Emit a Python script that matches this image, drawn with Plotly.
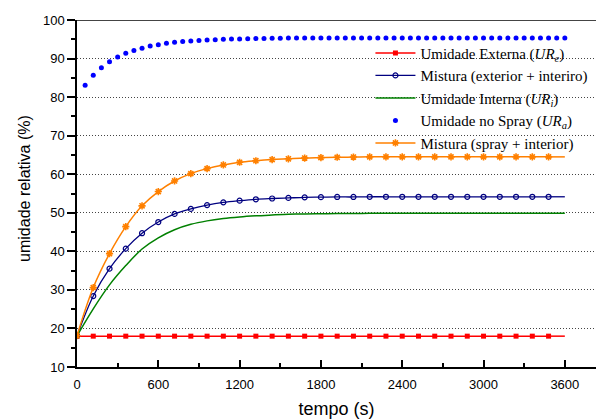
import plotly.graph_objects as go

# ---- data ----
tempo = [0, 120, 240, 360, 480, 600, 720, 840, 960, 1080, 1200, 1320, 1440, 1560,
         1680, 1800, 1920, 2040, 2160, 2280, 2400, 2520, 2640, 2760, 2880, 3000,
         3120, 3240, 3360, 3480, 3600]

ur_externa = [18.0, 18.0, 18.0, 18.0, 18.0, 18.0, 18.0, 18.0, 18.0, 18.0, 18.0,
              18.0, 18.0, 18.0, 18.0, 18.0, 18.0, 18.0, 18.0, 18.0, 18.0, 18.0,
              18.0, 18.0, 18.0, 18.0, 18.0, 18.0, 18.0, 18.0, 18.0]

mistura_ext = [18.1, 28.4, 35.5, 40.7, 44.7, 47.6, 49.7, 51.0, 52.0, 52.7, 53.15,
               53.5, 53.7, 53.85, 54.0, 54.05, 54.1, 54.1, 54.15, 54.15, 54.15,
               54.15, 54.15, 54.15, 54.15, 54.15, 54.15, 54.15, 54.15, 54.15, 54.15]

ur_interna = [18.1, 25.1, 31.3, 36.3, 40.6, 43.5, 45.6, 47.0, 47.9, 48.5, 48.9,
              49.2, 49.45, 49.6, 49.7, 49.75, 49.8, 49.8, 49.85, 49.85, 49.85,
              49.9, 49.9, 49.9, 49.9, 49.9, 49.9, 49.9, 49.9, 49.9, 49.9]

mistura_spray = [18.1, 30.6, 39.4, 46.4, 51.8, 55.5, 58.25, 60.15, 61.45, 62.4,
                 63.1, 63.5, 63.8, 64.0, 64.2, 64.3, 64.4, 64.45, 64.5, 64.5,
                 64.5, 64.5, 64.5, 64.5, 64.5, 64.5, 64.5, 64.5, 64.5, 64.5, 64.5]

tempo_spray = [60, 120, 180, 240, 300, 360, 420, 480, 540, 600, 660, 720, 780, 840,
               900, 960, 1020, 1080, 1140, 1200, 1260, 1320, 1380, 1440, 1500, 1560,
               1620, 1680, 1740, 1800, 1860, 1920, 1980, 2040, 2100, 2160, 2220,
               2280, 2340, 2400, 2460, 2520, 2580, 2640, 2700, 2760, 2820, 2880,
               2940, 3000, 3060, 3120, 3180, 3240, 3300, 3360, 3420, 3480, 3540, 3600]

ur_spray = [83.1, 85.65, 87.6, 89.2, 90.4, 91.35, 92.1, 92.65, 93.25, 93.6, 93.95,
            94.2, 94.4, 94.55, 94.7, 94.8, 94.9, 95.0, 95.05, 95.1, 95.15, 95.2,
            95.2, 95.25, 95.25, 95.3, 95.3, 95.3, 95.3, 95.3, 95.3, 95.3, 95.3,
            95.3, 95.3, 95.3, 95.3, 95.3, 95.3, 95.3, 95.3, 95.3, 95.3, 95.3,
            95.3, 95.3, 95.3, 95.3, 95.3, 95.3, 95.3, 95.3, 95.3, 95.3, 95.3,
            95.3, 95.3, 95.3, 95.3, 95.3]

x_ticks = [0, 600, 1200, 1800, 2400, 3000, 3600]
y_ticks = [10, 20, 30, 40, 50, 60, 70, 80, 90, 100]

nomes = [
    "Umidade Externa (<i>UR<sub>e</sub></i>)",
    "Mistura (exterior + interiro)",
    "Umidade Interna (<i>UR<sub>i</sub></i>)",
    "Umidade no Spray (<i>UR<sub>a</sub></i>)",
    "Mistura (spray + interior)",
]

RED = "#FF0000"
NAVY = "#000080"
GREEN = "#008000"
BLUE = "#0000FF"
ORANGE = "#FF8000"

fig = go.Figure()

def add_marked(y, name, color, marker, width=1.5):
    # line with markers up to the last marker, then a plain line tail to the end
    fig.add_trace(go.Scatter(x=tempo[:-1], y=y[:-1], name=name, mode="lines+markers",
                             line=dict(color=color, width=width, shape="spline"),
                             marker=marker))
    fig.add_trace(go.Scatter(x=tempo[-2:], y=y[-2:], mode="lines", showlegend=False,
                             line=dict(color=color, width=width), hoverinfo="skip"))

add_marked(ur_externa, nomes[0], RED, dict(symbol="square", size=5, color=RED))
add_marked(mistura_ext, nomes[1], NAVY,
           dict(symbol="circle-open", size=5, color=NAVY, line=dict(width=1.2, color=NAVY)),
           width=1.3)

fig.add_trace(go.Scatter(x=tempo, y=ur_interna, name=nomes[2], mode="lines",
                         line=dict(color=GREEN, width=1.5, shape="spline")))

fig.add_trace(go.Scatter(x=tempo_spray, y=ur_spray, name=nomes[3], mode="markers",
                         marker=dict(symbol="circle", size=5, color=BLUE)))

add_marked(mistura_spray, nomes[4], ORANGE,
           dict(symbol="asterisk-open", size=6, color=ORANGE, line=dict(width=1.6, color=ORANGE)))

# white patch behind the legend that hides the dotted grid (drawn under the traces)
fig.add_shape(type="rect", xref="paper", yref="y", x0=0.549, x1=1.0, y0=67.2, y1=93.6,
              fillcolor="white", line=dict(width=0), layer="between")

fig.add_shape(type="line", xref="paper", yref="y", x0=0, x1=1, y0=100, y1=100,
              line=dict(color="#444444", width=2), layer="above")

# y-axis title placed as a rotated annotation for exact positioning
fig.add_annotation(text="umidade relativa (%)", textangle=-90, showarrow=False,
                   xref="paper", yref="paper", x=-0.1002, y=0.516,
                   xanchor="center", yanchor="middle",
                   font=dict(family="Liberation Sans, Arial, sans-serif", size=16,
                             color="black"))

fig.update_layout(
    width=596, height=419,
    margin=dict(l=77, r=0, t=20, b=52),
    paper_bgcolor="white", plot_bgcolor="white",
    font=dict(family="Liberation Sans, Arial, sans-serif", size=13, color="black"),
    showlegend=True,
    legend=dict(x=0.5654, y=0.952, xanchor="left", yanchor="top",
                bgcolor="rgba(0,0,0,0)", borderwidth=0, itemwidth=40,
                font=dict(family="Liberation Serif, Times New Roman, serif", size=15,
                          color="black"),
                tracegroupgap=0),
    xaxis=dict(range=[0, 3830], tickmode="array", tickvals=x_ticks,
               ticktext=[str(v) for v in x_ticks], automargin=False,
               showgrid=False, zeroline=False, showline=True, linecolor="black",
               linewidth=1.5, ticks="inside", ticklen=7, tickwidth=1.5,
               tickcolor="black", ticklabelstandoff=5,
               minor=dict(dtick=300, ticks="inside", ticklen=4, tickwidth=1.5,
                          tickcolor="black", showgrid=False),
               title=dict(text="tempo (s)", font=dict(size=18))),
    yaxis=dict(range=[10, 100], tickmode="array", tickvals=y_ticks,
               ticktext=[str(v) for v in y_ticks], automargin=False,
               showgrid=True, gridcolor="#444444", griddash="1px,2px", gridwidth=1,
               zeroline=False, showline=True, linecolor="black", linewidth=1.5,
               ticks="outside", ticklen=8, tickwidth=1.5, tickcolor="black",
               minor=dict(dtick=5, ticks="outside", ticklen=4, tickwidth=1.5,
                          tickcolor="black", showgrid=False)),
)

fig.write_html("out.html", config={"displayModeBar": False},
               post_script="document.body.style.margin='0px';document.body.style.padding='0px';")
